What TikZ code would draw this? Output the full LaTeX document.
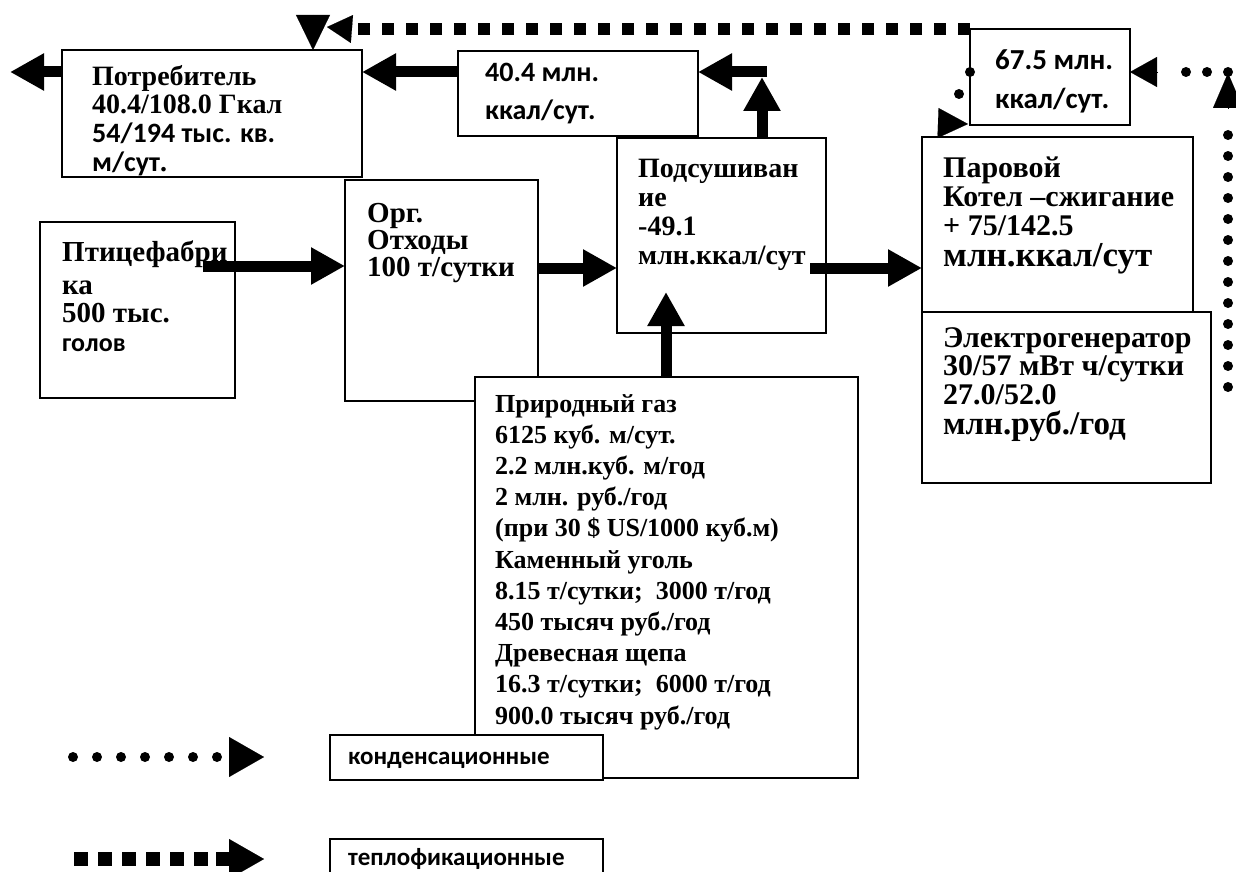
\documentclass[tikz,border=0pt]{standalone}
\usepackage{fontspec}
\setmainfont{Liberation Serif}
\newfontfamily\calfam{Carlito}
\usetikzlibrary{arrows.meta,calc}
\begin{document}
\begin{tikzpicture}[x=1pt,y=-1pt,
  box/.style={draw, line width=1.6pt, fill=white, inner sep=0pt, outer sep=0pt, anchor=north west},
  txt/.style={anchor=north west, inner sep=0pt, align=left},
  sans/.style={font=\calfam\bfseries\fontsize{28}{38}\selectfont},
  legtxt/.style={anchor=base west, inner sep=0pt, font=\calfam\bfseries\fontsize{25}{28}\selectfont},
  big/.style={line width=11pt, -{Triangle[width=35pt,length=34pt]}},
  sqline/.style={line width=12pt, dash pattern=on 12pt off 12pt},
  dotline/.style={line width=10pt, line cap=round, dash pattern=on 0pt off 21pt},
  tipfill/.style={line width=0.1pt}
]
\useasboundingbox (0,0) rectangle (1236,872);

% boxes
\node[box, minimum width=193pt, minimum height=221pt] (org) at (345,180) {};
\node[box, minimum width=300pt, minimum height=127pt] (pot) at (62,50) {};
\node[box, minimum width=240pt, minimum height=85pt] (b404) at (458,51) {};
\node[box, minimum width=160pt, minimum height=96pt] (p675) at (970,29) {};
\node[box, minimum width=195pt, minimum height=176pt] (ptica) at (40,222) {};
\node[box, minimum width=209pt, minimum height=195pt] (dry) at (617,138) {};
\node[box, minimum width=271pt, minimum height=175pt] (kotel) at (922,137) {};
\node[box, minimum width=289pt, minimum height=171pt] (gen) at (922,312) {};
\node[box, minimum width=383pt, minimum height=401pt] (gas) at (475,377) {};
\node[box, minimum width=273pt, minimum height=45pt] (leg1) at (330,735) {};
\node[box, minimum width=273pt, minimum height=45pt] (leg2) at (330,839) {};

% texts
\node[txt, font=\bfseries\fontsize{28}{28.5}\selectfont] (tpot) at (92,65)
  {Потребитель\\40.4/108.0 Гкал\\{\calfam\fontsize{28}{28}\selectfont 54/194 тыс. кв.}\\[1pt]{\calfam\fontsize{28}{28}\selectfont м/сут}.};
\node[txt, sans] (t404) at (485,63) {40.4 млн.\\ккал/сут.};
\node[txt, sans, font=\calfam\bfseries\fontsize{29}{39}\selectfont] (t675) at (995,50) {67.5 млн.\\ккал/сут.};
\node[txt, font=\bfseries\fontsize{29}{28.5}\selectfont] (tptica) at (62,241)
  {Птицефабри\\[4pt]ка\\500 тыс.\\{\calfam\fontsize{26}{26}\selectfont голов}};
\node[txt, font=\bfseries\fontsize{29}{27}\selectfont] (torg) at (367,203)
  {Орг.\\Отходы\\100 т/сутки};
\node[txt, font=\bfseries\fontsize{28}{29}\selectfont] (tdry) at (638,159)
  {Подсушиван\\ие\\-49.1\\млн.ккал/сут};
\node[txt, font=\bfseries\fontsize{30}{29}\selectfont] (tkotel) at (943,157)
  {Паровой\\Котел –сжигание\\+ 75/142.5\\[2pt]{\fontsize{35}{33}\selectfont млн.ккал/сут}};
\node[txt, font=\bfseries\fontsize{30}{28.5}\selectfont] (tgen) at (943,327)
  {Электрогенератор\\30/57 мВт ч/сутки\\27.0/52.0\\[2pt]{\fontsize{33}{33}\selectfont млн.руб./год}};
\node[txt, font=\bfseries\fontsize{26}{31.2}\selectfont] (tgas) at (495,394)
  {Природный газ\\6125 куб. м/сут.\\2.2 млн.куб. м/год\\2 млн. руб./год\\(при 30 \$ US/1000 куб.м)\\Каменный уголь\\8.15 т/сутки;\ \ 3000 т/год\\450 тысяч руб./год\\Древесная щепа\\16.3 т/сутки;\ \ 6000 т/год\\900.0 тысяч руб./год};
\node[legtxt] (tleg1) at (348,764) {конденсационные};
\node[legtxt] (tleg2) at (348,865) {теплофикационные};

% thick arrows
\coordinate (outL) at (10,72);
\draw[big] ($(pot.north west)+(0,22)$) -- (outL);
\draw[big] ($(b404.north west)+(0,21)$) -- ($(pot.north east)+(0,22)$);
\draw[big] ($(dry.north west)+(145,0)$) -- ++(0,-61);
\draw[big] ($(dry.north west)+(150,-66)$) -- ($(b404.north east)+(0,21)$);
\draw[big] ($(ptica.north west)+(163,44)$) -- ($(org.north west)+(0,86)$);
\draw[big] ($(org.north east)+(0,88)$) -- ($(dry.north west)+(0,130)$);
\draw[big] ($(dry.north east)+(-16,130)$) -- ($(kotel.north west)+(0,131)$);
\draw[big] ($(gas.north west)+(191,0)$) -- ($(dry.south west)+(49,-41)$);

% heating (square dashed) connector
\coordinate (sqend) at (352,29);
\draw[sqline] (p675.north west) -- (sqend);
\draw[tipfill, -{Triangle[width=28pt,length=25pt]}] (sqend) -- (327,27);
\draw[tipfill, -{Triangle[width=34pt,length=35pt]}] (313,15) -- ($(pot.north west)+(251,0)$);

% condensation (dotted) connector
\coordinate (dbot) at (1228,387);
\coordinate (dcorner) at (1228,72);
\draw[dotline] (dbot) -- (1228,115);
\draw[tipfill, -{Triangle[width=30pt,length=35pt]}] (1228,108) -- (1228,73);
\draw[dotline] (dcorner) -- (1185,72);
\draw[tipfill, -{Triangle[width=30pt,length=27pt]}] (1158,72) -- ($(p675.north east)+(0,43)$);
\fill ($(p675.north west)+(0,43)$) circle (5pt);
\fill (959,94) circle (5pt);
\draw[tipfill, -{Triangle[width=30pt,length=30pt]}] (938,123) -- ($(p675.south west)+(-2,-1)$);

% legend
\coordinate (l1a) at (73,757);
\coordinate (l1b) at (264,757);
\draw[line width=10pt, line cap=round, dash pattern=on 0pt off 24pt] (l1a) -- (218,757);
\draw[tipfill, -{Triangle[width=40pt,length=35pt]}] (229,757) -- (l1b);
\coordinate (l2a) at (74,859);
\coordinate (l2b) at (264,859);
\draw[line width=14pt, dash pattern=on 14pt off 10pt] (l2a) -- (216,859);
\draw[line width=14pt] (216,859) -- (231,859);
\draw[tipfill, -{Triangle[width=40pt,length=35pt]}] (229,859) -- (l2b);
\end{tikzpicture}
\end{document}
